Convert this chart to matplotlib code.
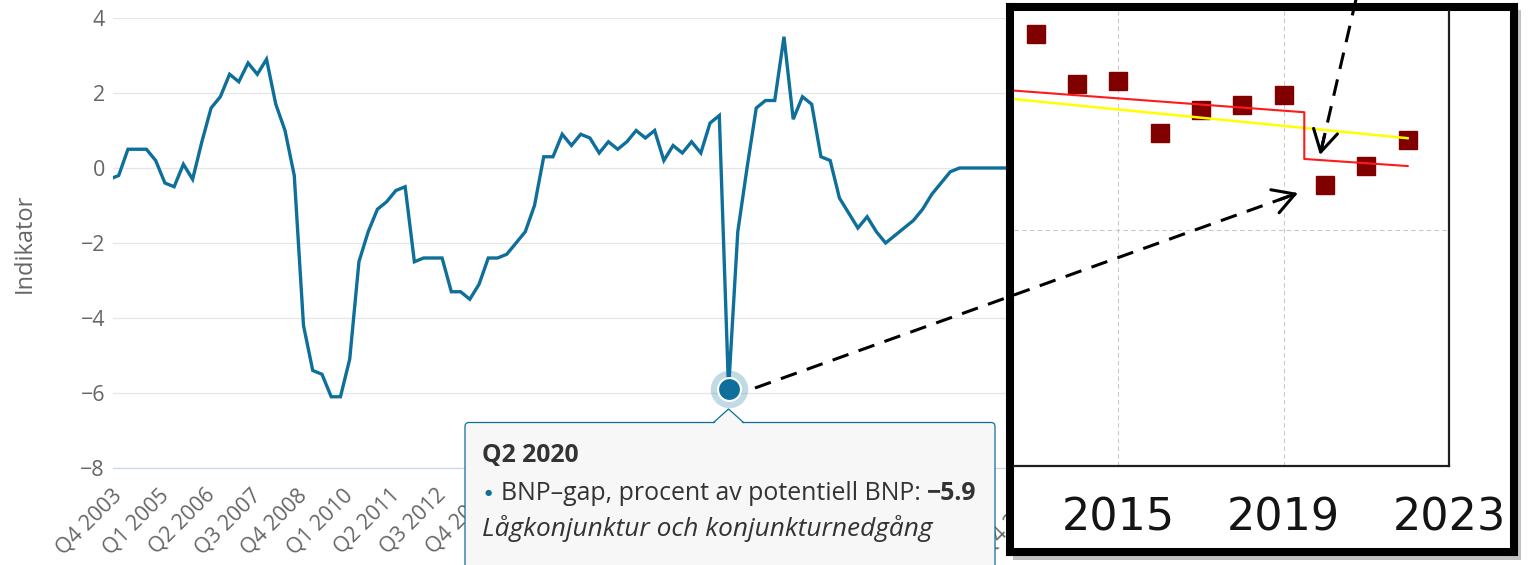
import matplotlib
matplotlib.use("Agg")
import matplotlib.pyplot as plt
import matplotlib.transforms as mtransforms
from matplotlib.patches import FancyBboxPatch, Polygon, Rectangle, FancyArrowPatch
from matplotlib.lines import Line2D

W, H = 1537, 565

# quarters from Q3 2003 to Q4 2033
quarters = [f"Q{q} {y}" for y in range(2003, 2034) for q in range(1, 5)][2:]

# BNP-gap, procent av potentiell BNP
gap = [
    -0.3,                          # Q3 2003
    -0.2, 0.5, 0.5, 0.5, 0.2,      # Q4 2003 - Q4 2004
    -0.4, -0.5, 0.1, -0.3,         # 2005
    0.7, 1.6, 1.9, 2.5,            # 2006
    2.3, 2.8, 2.5, 2.9,            # 2007
    1.7, 1.0, -0.2, -4.2,          # 2008
    -5.4, -5.5, -6.1, -6.1,        # 2009
    -5.1, -2.5, -1.7, -1.1,        # 2010
    -0.9, -0.6, -0.5, -2.5,        # 2011
    -2.4, -2.4, -2.4, -3.3,        # 2012
    -3.3, -3.5, -3.1, -2.4,        # 2013
    -2.4, -2.3, -2.0, -1.7,        # 2014
    -1.0, 0.3, 0.3, 0.9,           # 2015
    0.6, 0.9, 0.8, 0.4,            # 2016
    0.7, 0.5, 0.7, 1.0,            # 2017
    0.8, 1.0, 0.2, 0.6,            # 2018
    0.4, 0.7, 0.4, 1.2,            # 2019
    1.4, -5.9, -1.7, 0.0,          # 2020
    1.6, 1.8, 1.8, 3.5,            # 2021
    1.3, 1.9, 1.7, 0.3,            # 2022
    0.2, -0.8, -1.2, -1.6,         # 2023
    -1.3, -1.7, -2.0, -1.8,        # 2024
    -1.6, -1.4, -1.1, -0.7,        # 2025
    -0.4, -0.1, 0.0, 0.0,          # 2026
    0.0, 0.0, 0.0, 0.0,            # 2027
    0.0, 0.0, 0.0, 0.0,            # 2028
    0.0, 0.0, 0.0, 0.0,            # 2029
    0.0, 0.0, 0.0, 0.0,            # 2030
    0.0, 0.0, 0.0, 0.0,            # 2031
    0.0, 0.0, 0.0, 0.0,            # 2032
    0.0, 0.0, 0.0, 0.0,            # 2033
]
highlight = "Q2 2020"
y_ticks = [-8, -6, -4, -2, 0, 2, 4]

# inset (cut-out of another chart)
inset_years = [2013, 2014, 2015, 2016, 2017, 2018, 2019, 2020, 2021, 2022]
inset_vals = [1.83, 1.62, 1.63, 1.41, 1.51, 1.53, 1.57, 1.19, 1.27, 1.38]
red_years = [2012.0, 2019.5, 2019.5, 2022.0]
red_vals = [1.597, 1.499, 1.301, 1.271]
yellow_years = [2012.0, 2022.0]
yellow_vals = [1.563, 1.389]
inset_ticks = [2015, 2019, 2023]

LINE = "#0e6f9a"
LABEL = "#666666"

plt.rcParams["font.family"] = ["Open Sans", "DejaVu Sans"]

fig = plt.figure(figsize=(W / 100, H / 100), dpi=100)
fig.patch.set_facecolor("white")
pix = mtransforms.Affine2D().scale(1 / W, -1 / H).translate(0, 1) + fig.transFigure


def frac(x0, y0, x1, y1):
    return [x0 / W, 1 - y1 / H, (x1 - x0) / W, (y1 - y0) / H]


# ---- main chart ----
step = 9.24
x_first = 109.46
x_left, x_right = 113.3, x_first + (len(gap) - 1) * step
ax = fig.add_axes(frac(x_left, 18, x_right, 468))
idx = list(range(len(gap)))
ax.plot(idx, gap, color=LINE, lw=2.4, solid_joinstyle="miter", zorder=3)
ax.set_xlim((x_left - x_first) / step, len(gap) - 1)
ax.set_ylim(-8, 4)

ax.set_yticks(y_ticks)
ax.grid(axis="y", color="#e6e6e6", lw=0.9)
for s in ["left", "right", "top"]:
    ax.spines[s].set_visible(False)
ax.spines["bottom"].set_color("#ccd6eb")
ax.spines["bottom"].set_linewidth(0.9)
tick_idx = list(range(1, len(quarters), 5))
ax.set_xticks(tick_idx)
ax.set_xticklabels([quarters[i] for i in tick_idx], rotation=45, ha="right",
                   va="top", rotation_mode="anchor")
ax.tick_params(axis="x", length=0, pad=12, labelsize=15.5, labelcolor=LABEL)
ax.tick_params(axis="y", length=0, pad=6, labelsize=15.5, labelcolor=LABEL)
shift = mtransforms.ScaledTranslation(-7 / 100, 0, fig.dpi_scale_trans)
for lab in ax.get_xticklabels():
    lab.set_transform(lab.get_transform() + shift)
fig.text(25, 243, "Indikator", transform=pix, rotation=90, ha="center",
         va="center", fontsize=17, color=LABEL)

# hovered point
hi = quarters.index(highlight)
ax.plot([hi], [gap[hi]], "o", ms=27, color=LINE, alpha=0.25, mew=0, clip_on=False, zorder=4)
ax.plot([hi], [gap[hi]], "o", ms=16.5, color=LINE, mec="white", mew=1.5,
        clip_on=False, zorder=5)

# ---- tooltip ----
box = FancyBboxPatch((465, 422.5), 530, 160, boxstyle="round,pad=0,rounding_size=4",
                     transform=pix, facecolor="#f7f7f7", edgecolor=LINE, lw=0.9,
                     zorder=6)
fig.add_artist(box)
px_hi = x_first + hi * step
tri_fill = Polygon([(px_hi - 15, 424), (px_hi, 409), (px_hi + 15, 424)], closed=True,
                   transform=pix, facecolor="#f7f7f7", edgecolor="none", zorder=7)
fig.add_artist(tri_fill)
fig.add_artist(Line2D([px_hi - 15, px_hi, px_hi + 15], [422.5, 409, 422.5],
                      transform=pix, color=LINE, lw=0.9, zorder=7))
fig.text(482, 455, highlight, transform=pix, fontsize=17.8, fontweight="bold",
         color="#333333", va="center", zorder=8)
fig.text(488, 493, "●", transform=pix, fontsize=6, color=LINE, va="center",
         ha="center", family="DejaVu Sans", zorder=8)
t2 = fig.text(501, 493, "BNP–gap, procent av potentiell BNP: ", transform=pix,
              fontsize=17.9, color="#333333", va="center", zorder=8)
fig.add_artist(plt.Annotation(f"{gap[hi]:.1f}".replace("-", "−"), xy=(1, 0),
                              xycoords=t2, va="bottom", ha="left", fontsize=17.9,
                              fontweight="bold", color="#333333", zorder=8))
fig.text(482, 528, "Lågkonjunktur och konjunkturnedgång", transform=pix,
         fontsize=18.9, style="italic", color="#333333", va="center", zorder=8)

# ---- inset ----
shadow = Rectangle((1013, 10), 508, 550, transform=pix, facecolor="#9a9a9a",
                   alpha=0.6, edgecolor="none", zorder=9)
fig.add_artist(shadow)
bax = fig.add_axes(frac(1010, 7, 1513.5, 552), zorder=10)
bax.set_facecolor("white")
bax.set_xticks([])
bax.set_yticks([])
for s in bax.spines.values():
    s.set_color("black")
    s.set_linewidth(5.8)

iax = fig.add_axes(frac(1014, 11, 1449, 466), zorder=11)
iax.set_facecolor("none")
iax.set_xlim(2012.48, 2023.0)
iax.set_ylim(0, 1.928)
iax.set_xticks(inset_ticks)
iax.set_yticks([1.0])
iax.grid(True, color="#c9c9c9", lw=0.8, ls=(0, (4, 3)))
iax.tick_params(axis="x", length=0, pad=22, labelsize=32, labelcolor="#141414")
iax.tick_params(axis="y", length=0, labelleft=False)
for lab in iax.get_xticklabels():
    lab.set_family("DejaVu Sans")
iax.spines["left"].set_visible(False)
iax.spines["top"].set_visible(False)
for s in ["right", "bottom"]:
    iax.spines[s].set_color("#1e1e1e")
    iax.spines[s].set_linewidth(1.6)
iax.plot(inset_years, inset_vals, "s", ms=12.7, color="#800000", zorder=3)
iax.plot(yellow_years, yellow_vals, color="#ffff00", lw=1.8, zorder=4)
iax.plot(red_years, red_vals, color="#ff1a1a", lw=1.5, zorder=5)

# ---- dashed arrows ----
arrows = [((755, 388), (1298, 193)), ((1357, -5), (1320, 155))]
for (x0, y0), (x1, y1) in arrows:
    fig.add_artist(Line2D([x0, x1], [y0, y1], transform=pix, color="black",
                          lw=2.2, ls=(0, (5.5, 3.5)), zorder=20))
    dx, dy = x1 - x0, y1 - y0
    n = (dx ** 2 + dy ** 2) ** 0.5
    back = (x1 - dx / n * 20, y1 - dy / n * 20)
    fig.add_artist(FancyArrowPatch(back, (x1, y1), transform=pix,
                                   arrowstyle="->,head_length=0.7,head_width=0.4",
                                   mutation_scale=22, color="black", lw=2.2,
                                   shrinkA=0, shrinkB=0, zorder=20))

fig.savefig("out.png", dpi=100, facecolor="white")
